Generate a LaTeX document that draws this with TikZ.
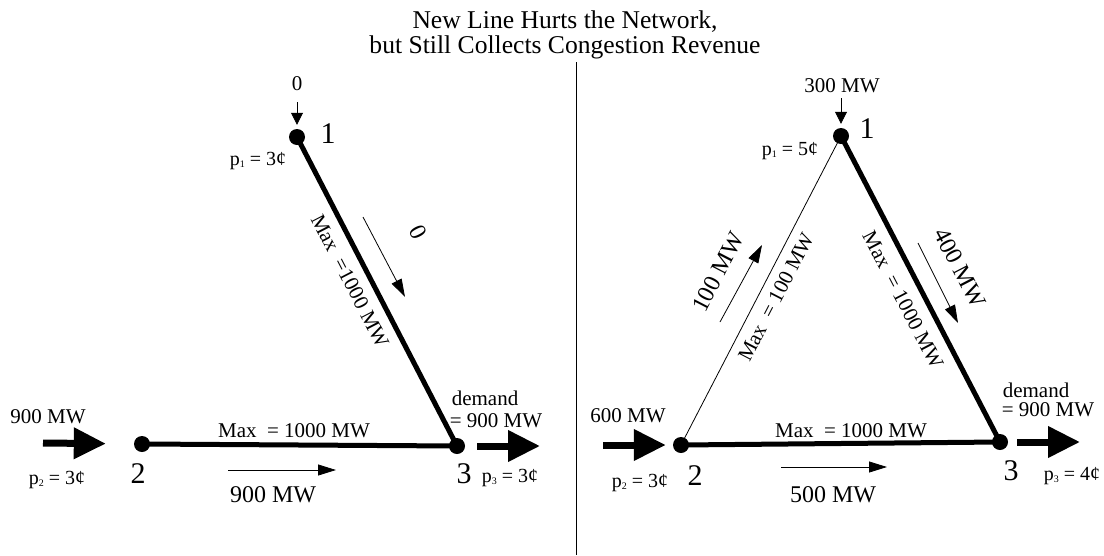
\documentclass[tikz,border=0pt]{standalone}
\usepackage{fontspec}
\setmainfont{Liberation Serif}
\usetikzlibrary{arrows.meta}
\newcommand\fsz[1]{\fontsize{#1}{#1}\selectfont}
\newcommand\psub[1]{\raisebox{-0.3ex}{\fontsize{10}{10}\selectfont #1}}
\begin{document}
\begin{tikzpicture}[x=1pt,y=-1pt,
  dot/.style={circle,fill=black,inner sep=0pt,minimum size=16pt},
  heavy/.style={line width=5pt},
  light/.style={line width=0.8pt},
  bigarrow/.style={line width=7pt,-{Triangle[length=32pt,width=30pt]}},
  flow/.style={line width=0.8pt,-{Triangle[length=18pt,width=11pt]}},
  inarrow/.style={line width=0.8pt,-{Triangle[length=12pt,width=12pt]}},
  lbl/.style={font=\fsz{21},inner sep=0pt,anchor=base},
  flbl/.style={font=\fsz{24},inner sep=0pt,anchor=base},
  rlbl/.style={font=\fsz{21},inner sep=0pt,anchor=center},
  rflbl/.style={font=\fsz{24},inner sep=0pt,anchor=center},
  price/.style={font=\fsz{20},inner sep=0pt,anchor=base},
  num/.style={font=\fsz{30},inner sep=0pt,anchor=base}]
\useasboundingbox (0,0) rectangle (1104,555);
\fill[white] (0,0) rectangle (1104,555);

% title
\node[font=\fontsize{25.6}{25}\selectfont,align=center,inner sep=0pt] (title) at (565,35)
  {New Line Hurts the Network,\\but Still Collects Congestion Revenue};

% divider
\coordinate (divtop) at (576,62);
\coordinate (divbot) at (576,555);
\draw[line width=0.8pt] (divtop) -- (divbot);

% ---------------- left network ----------------
\node[dot] (L1) at (297,137) {};
\node[dot] (L2) at (142,444) {};
\node[dot] (L3) at (457,446) {};
\draw[heavy] (L1.center) -- (L3.center);
\draw[heavy] (L2.center) -- (L3.center);

\node[num] (L1n) at (328,143) {1};
\node[num] (L2n) at (138,483) {2};
\node[num] (L3n) at (464,483) {3};

\node[lbl] (L1inl) at (297,90) {0};
\coordinate (L1ins) at (297,102);
\draw[inarrow,shorten >=4pt] (L1ins) -- (L1);
\node[price] (L1p) at (258,165) {p\psub{1} = 3¢};

\node[lbl] (L2inl) at (48,423) {900 MW};
\coordinate (L2ins) at (43,443);
\draw[bigarrow,shorten >=28pt] (L2ins) -- (L2);
\node[price] (L2p) at (57,484) {p\psub{2} = 3¢};

\node[lbl] (L3d1) at (485,405) {demand};
\node[lbl] (L3d2) at (496,427) {= 900 MW};
\coordinate (L3out) at (540,446);
\draw[bigarrow,shorten <=12pt] (L3) -- (L3out);
\node[price] (L3p) at (510,482) {p\psub{3} = 3¢};

\node[rlbl,rotate=-62.7] (L13max) at (350,281) {Max\ \ =1000 MW};
\coordinate (L13a) at (363,217);
\coordinate (L13b) at (405,297);
\draw[flow] (L13a) -- (L13b);
\node[rflbl,rotate=-62.7] (L13f) at (418,232) {0};

\node[lbl] (L23max) at (294,437) {Max\ \ = 1000 MW};
\coordinate (L23a) at (228,470);
\coordinate (L23b) at (336,470);
\draw[flow] (L23a) -- (L23b);
\node[flbl] (L23f) at (273,502) {900 MW};

% ---------------- right network ----------------
\node[dot] (R1) at (841,136) {};
\node[dot] (R2) at (681,445) {};
\node[dot] (R3) at (1000,442) {};
\draw[light] (R1.center) -- (R2.center);
\draw[heavy] (R1.center) -- (R3.center);
\draw[heavy] (R2.center) -- (R3.center);

\node[num] (R1n) at (867,138) {1};
\node[num] (R2n) at (695,485) {2};
\node[num] (R3n) at (1011,480) {3};

\node[lbl] (R1inl) at (842,92) {300 MW};
\coordinate (R1ins) at (841,98);
\draw[inarrow,shorten >=4pt] (R1ins) -- (R1);
\node[price] (R1p) at (790,155) {p\psub{1} = 5¢};

\node[lbl] (R2inl) at (628,422) {600 MW};
\coordinate (R2ins) at (603,445);
\draw[bigarrow,shorten >=7pt] (R2ins) -- (R2);
\node[price] (R2p) at (640,487) {p\psub{2} = 3¢};

\node[lbl] (R3d1) at (1036,397) {demand};
\node[lbl] (R3d2) at (1048,416) {= 900 MW};
\coordinate (R3out) at (1080,442);
\draw[bigarrow,shorten <=9pt] (R3) -- (R3out);
\node[price] (R3p) at (1072,480) {p\psub{3} = 4¢};

\node[rlbl,rotate=62.6] (R12max) at (776,297) {Max\ \ = 100 MW};
\coordinate (R12a) at (720,322);
\coordinate (R12b) at (762,245);
\draw[flow] (R12a) -- (R12b);
\node[rflbl,rotate=62.6] (R12f) at (718,272) {100 MW};

\node[rlbl,rotate=-62.5] (R13max) at (903,300) {Max\ \ = 1000 MW};
\coordinate (R13a) at (918,243);
\coordinate (R13b) at (958,323);
\draw[flow] (R13a) -- (R13b);
\node[rflbl,rotate=-62.5] (R13f) at (960,268) {400 MW};

\node[lbl] (R23max) at (851,437) {Max\ \ = 1000 MW};
\coordinate (R23a) at (781,467);
\coordinate (R23b) at (887,467);
\draw[flow] (R23a) -- (R23b);
\node[flbl] (R23f) at (833,502) {500 MW};
\end{tikzpicture}
\end{document}
